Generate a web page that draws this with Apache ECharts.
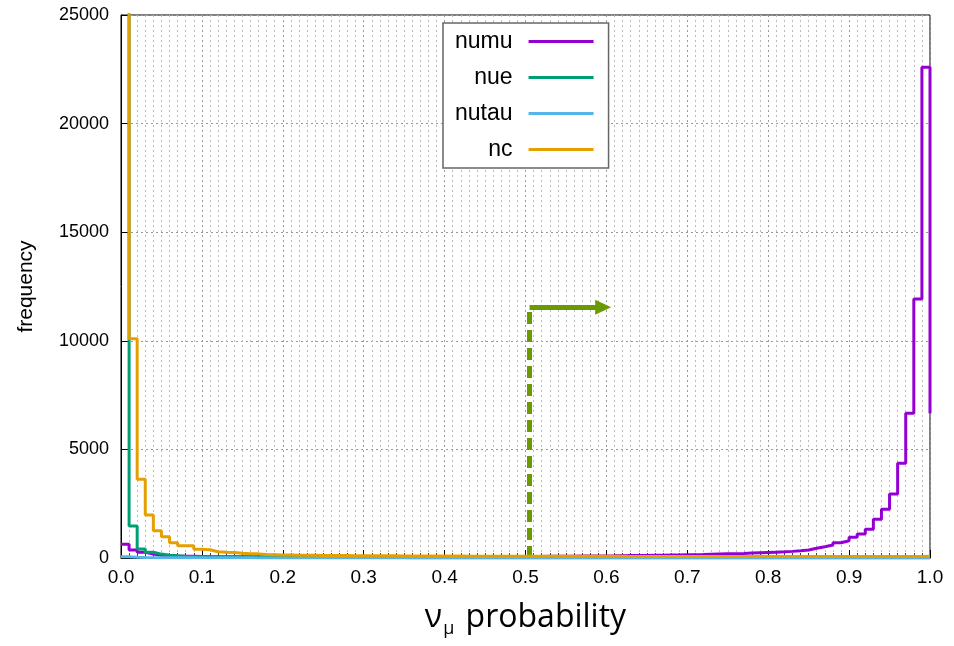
<!DOCTYPE html>
<html>
<head>
<meta charset="utf-8">
<script src="https://cdn.jsdelivr.net/npm/echarts@6/dist/echarts.min.js"></script>
<style>
  html, body { margin: 0; padding: 0; background: #fff; }
  #chart { width: 954px; height: 646px; }
</style>
</head>
<body>
<div id="chart"></div>
<script>
// histogram bins, 0.01 wide, values at left bin edge (gnuplot "steps")
var binWidth = 0.01;
var seriesNames = ['numu', 'nue', 'nutau', 'nc'];
var seriesColors = ['#9400d3', '#009e73', '#56b4e9', '#e69f00'];

var numu = [
  630, 370, 260, 180, 130, 105, 90, 80, 75, 70,
  65, 62, 60, 57, 55, 53, 52, 50, 49, 48,
  47, 46, 46, 45, 45, 45, 44, 44, 44, 44,
  44, 44, 45, 45, 46, 46, 47, 48, 49, 50,
  51, 52, 53, 55, 57, 59, 61, 63, 65, 68,
  70, 73, 76, 79, 82, 85, 88, 91, 94, 97,
  100, 105, 110, 115, 120, 125, 130, 135, 140, 150,
  155, 160, 170, 180, 190, 200, 210, 225, 240, 255,
  270, 285, 305, 330, 370, 446, 520, 598, 705, 797,
  950, 1105, 1320, 1780, 2240, 2946, 4360, 6660, 11925, 22600,
  6660
];
var nue = [
  40000, 1470, 414, 262, 180, 130, 100, 85, 72, 62,
  55, 50, 46, 42, 39, 36, 34, 32, 30, 28,
  27, 26, 25, 24, 23, 22, 21, 21, 20, 20,
  19, 19, 18, 18, 18, 17, 17, 17, 16, 16,
  16, 16, 15, 15, 15, 15, 15, 14, 14, 14,
  14, 14, 14, 13, 13, 13, 13, 13, 13, 12,
  12, 12, 12, 12, 12, 12, 12, 12, 12, 12,
  12, 12, 11, 11, 11, 11, 11, 11, 11, 11,
  10, 10, 10, 10, 10, 10, 10, 10, 10, 10,
  10, 10, 10, 9, 9, 9, 9, 9, 9, 8,
  8
];
var nutau = [
  60, 30, 18, 14, 12, 10, 9, 8, 8, 7,
  7, 7, 6, 6, 6, 6, 5, 5, 5, 5,
  5, 5, 5, 5, 4, 4, 4, 4, 4, 4,
  4, 4, 4, 4, 4, 4, 4, 4, 4, 4,
  4, 4, 4, 4, 4, 4, 4, 4, 4, 4,
  4, 4, 4, 4, 4, 4, 4, 4, 4, 4,
  4, 4, 4, 4, 4, 4, 4, 4, 4, 4,
  4, 4, 4, 4, 4, 4, 4, 4, 4, 4,
  4, 4, 4, 4, 4, 4, 4, 4, 4, 4,
  4, 4, 4, 4, 4, 4, 4, 4, 5, 5,
  5
];
var nc = [
  80000, 10100, 3620, 1980, 1260, 980, 705, 566, 560, 400,
  380, 290, 265, 250, 215, 200, 190, 160, 150, 140,
  135, 130, 126, 122, 118, 115, 112, 110, 108, 106,
  104, 102, 100, 98, 96, 95, 94, 92, 90, 89,
  88, 87, 86, 85, 84, 83, 82, 82, 81, 81,
  80, 80, 79, 79, 78, 78, 77, 77, 76, 76,
  75, 75, 74, 74, 74, 73, 73, 73, 72, 72,
  72, 72, 71, 71, 71, 71, 70, 70, 70, 70,
  70, 70, 70, 70, 70, 70, 70, 70, 70, 70,
  70, 70, 70, 70, 71, 71, 72, 72, 73, 75,
  75
];
var seriesValues = [numu, nue, nutau, nc];

var yTicks = [0, 5000, 10000, 15000, 20000, 25000];

// cut arrow: dashed line up at the cut, then an arrow to the right
var cutX = 0.505;
var arrowY = 11540;
var arrowEndX = 0.596;
var arrowColor = '#6a9a00';

function toPairs(vals) {
  return vals.map(function (v, i) {
    return [+(i * binWidth).toFixed(2), v];
  });
}

var series = seriesNames.map(function (name, i) {
  return {
    name: name,
    type: 'line',
    step: 'end',
    symbol: 'none',
    clip: true,
    color: seriesColors[i],
    lineStyle: { width: 3, color: seriesColors[i] },
    data: toPairs(seriesValues[i]),
    z: 3 + i
  };
});

series.push({
  name: 'cut',
  type: 'line',
  data: [],
  z: 10,
  markLine: {
    silent: true,
    animation: false,
    symbol: ['none', 'none'],
    label: { show: false },
    emphasis: { disabled: true },
    data: [
      [
        { coord: [cutX, 0], lineStyle: { color: arrowColor, width: 5, type: [12, 6] } },
        { coord: [cutX, arrowY] }
      ],
      [
        { coord: [cutX, arrowY], lineStyle: { color: arrowColor, width: 5, type: 'solid' } },
        { coord: [arrowEndX, arrowY], symbol: 'triangle', symbolSize: [15, 16] }
      ]
    ]
  }
});

var chart = echarts.init(document.getElementById('chart'));
chart.setOption({
  animation: false,
  backgroundColor: '#fff',
  textStyle: { fontFamily: 'Liberation Sans, Arial, sans-serif', color: '#000' },
  grid: {
    left: 121, right: 24, top: 15, bottom: 88,
    outerBoundsMode: 'none',
    show: true, borderColor: '#000', borderWidth: 1
  },
  legend: {
    data: seriesNames,
    orient: 'vertical',
    align: 'right',
    left: 443,
    top: 23,
    icon: 'rect',
    itemWidth: 65,
    itemHeight: 3,
    itemGap: 13,
    padding: [7, 15, 7, 12],
    backgroundColor: '#fff',
    borderColor: '#666',
    borderWidth: 1.5,
    borderRadius: 0,
    textStyle: { fontSize: 23, color: '#000', padding: [0, 11, 0, 0] }
  },
  xAxis: {
    type: 'value',
    min: 0,
    max: 1,
    interval: 0.1,
    name: '{a|ν}{s|μ}{a| probability}',
    nameLocation: 'middle',
    nameGap: 42,
    nameTextStyle: {
      rich: {
        a: { fontFamily: 'Open Sans', fontSize: 32, color: '#000', verticalAlign: 'top', lineHeight: 36 },
        s: { fontFamily: 'Open Sans', fontSize: 18, color: '#000', verticalAlign: 'bottom', lineHeight: 18, padding: [28, 3, 0, 1] }
      }
    },
    axisLine: { show: true, lineStyle: { color: '#000', width: 1 } },
    axisTick: { show: true, inside: true, length: 8, lineStyle: { color: '#000' } },
    minorTick: { show: true, splitNumber: 10, length: 5, lineStyle: { color: '#444' } },
    axisLabel: {
      fontSize: 19, color: '#000', margin: 10,
      formatter: function (v) { return v.toFixed(1); }
    },
    splitLine: { show: true, lineStyle: { color: '#999', type: [2, 3], width: 1 } },
    minorSplitLine: { show: true, lineStyle: { color: '#bbb', type: [2, 3], width: 1 } }
  },
  yAxis: {
    type: 'value',
    min: yTicks[0],
    max: yTicks[yTicks.length - 1],
    interval: 5000,
    name: 'frequency',
    nameLocation: 'middle',
    nameRotate: 90,
    nameGap: 84,
    nameTextStyle: { fontSize: 21, color: '#000' },
    axisLine: { show: true, lineStyle: { color: '#000', width: 1 } },
    axisTick: { show: true, inside: true, length: 8, lineStyle: { color: '#000' } },
    axisLabel: {
      fontSize: 18, color: '#000', margin: 12,
      formatter: function (v) { return String(v); }
    },
    splitLine: { show: true, lineStyle: { color: '#999', type: [2, 3], width: 1 } }
  },
  series: series
});
</script>
</body>
</html>
